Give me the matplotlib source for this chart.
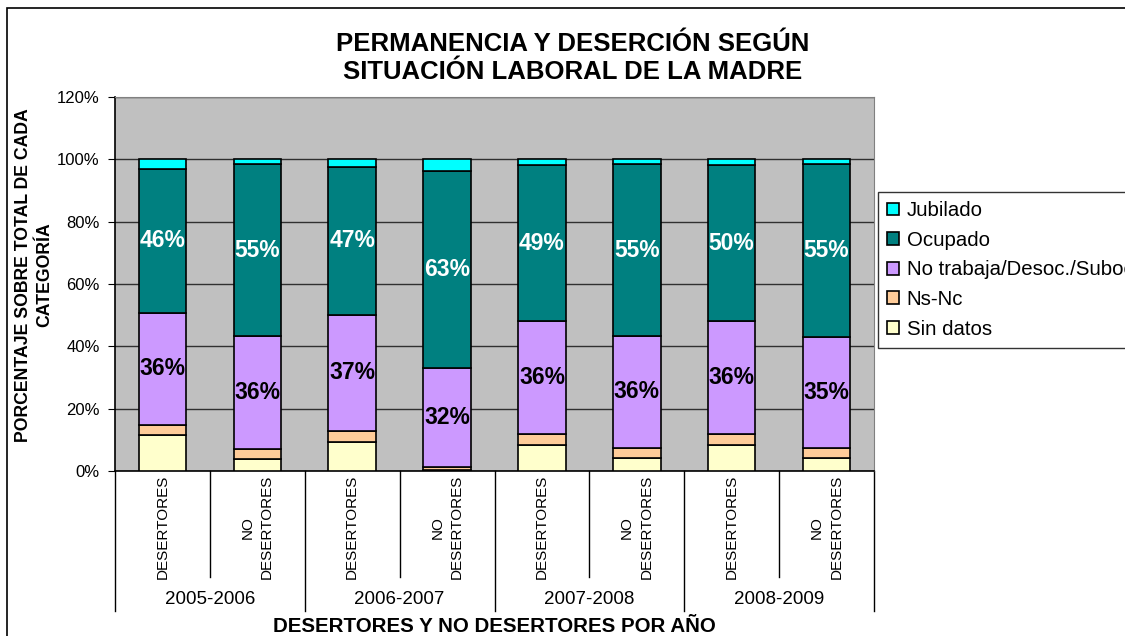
import numpy as np
import matplotlib.pyplot as plt
import matplotlib.transforms as mtransforms
from matplotlib.patches import Rectangle

plt.rcParams['font.family'] = ['Liberation Sans', 'DejaVu Sans']

# data (percent of each category)
grupos = ['DESERTORES', 'NO\nDESERTORES'] * 4
anios = ['2005-2006', '2006-2007', '2007-2008', '2008-2009']
sin_datos = [11.5, 3.7, 9.3, 0.4, 8.5, 4.3, 8.5, 4.3]
ns_nc = [3.3, 3.3, 3.6, 0.8, 3.4, 3.2, 3.4, 3.2]
no_trabaja = [36.0, 36.2, 37.3, 32.0, 36.3, 35.8, 36.2, 35.5]
ocupado = [46.2, 55.3, 47.3, 63.0, 49.9, 55.1, 50.0, 55.6]
jubilado = [3.0, 1.5, 2.5, 3.8, 1.9, 1.6, 1.9, 1.4]
etiq_notrab = ['36%', '36%', '37%', '32%', '36%', '36%', '36%', '35%']
etiq_ocup = ['46%', '55%', '47%', '63%', '49%', '55%', '50%', '55%']

series = [('Sin datos', sin_datos, '#FFFFCC'),
          ('Ns-Nc', ns_nc, '#FFCC99'),
          ('No trabaja/Desoc./Suboc', no_trabaja, '#CC99FF'),
          ('Ocupado', ocupado, '#008080'),
          ('Jubilado', jubilado, '#00FFFF')]

W, H = 1125, 636
fig = plt.figure(figsize=(W / 100, H / 100), dpi=100)
ax = fig.add_axes([115 / W, 1 - 471 / H, (874 - 115) / W, (471 - 97) / H])
ax.set_facecolor('#C0C0C0')

x = np.arange(len(grupos))
bottom = np.zeros(len(x))
bars = {}
for name, vals, col in series:
    vals = np.array(vals)
    bars[name] = ax.bar(x, vals, 0.5, bottom=bottom, color=col,
                        edgecolor='black', linewidth=1.2, label=name, zorder=3)
    bottom += vals

# percentage labels
b1 = np.array(sin_datos) + np.array(ns_nc)
for i in x:
    ax.text(i, b1[i] + no_trabaja[i] / 2, etiq_notrab[i], ha='center', va='center',
            fontsize=16.5, fontweight='bold', color='black', zorder=5)
    ax.text(i, b1[i] + no_trabaja[i] + ocupado[i] / 2, etiq_ocup[i], ha='center',
            va='center', fontsize=16.5, fontweight='bold', color='white', zorder=5)

ax.set_xlim(-0.5, len(x) - 0.5)
ax.set_ylim(0, 120)
ax.set_yticks(np.arange(0, 121, 20))
ax.set_yticklabels(['%d%%' % v for v in range(0, 121, 20)], fontsize=12)
ax.yaxis.grid(True, color='#303030', linewidth=1, zorder=1)
ax.set_axisbelow(True)
ax.tick_params(axis='y', direction='out', length=5, pad=6)
ax.set_xticks([])
for s in ['top', 'right']:
    ax.spines[s].set_color('#808080')
for s in ['left', 'bottom']:
    ax.spines[s].set_color('black')
    ax.spines[s].set_linewidth(1.2)

# two-level category axis
trans = mtransforms.blended_transform_factory(ax.transData, fig.transFigure)
def fy(py):
    return 1 - py / H
for i in x:
    ax.text(i, fy(475), grupos[i], transform=trans, rotation=90, ha='center',
            va='top', fontsize=11, multialignment='center', linespacing=1.5)
for k in range(len(x) + 1):
    xs = k - 0.5
    y_end = 611 if k % 2 == 0 else 577
    ax.plot([xs, xs], [fy(471), fy(y_end)], transform=trans, color='black',
            linewidth=1, clip_on=False)
for j, a in enumerate(anios):
    ax.text(2 * j + 0.5, fy(600), a, transform=trans, ha='center', va='center',
            fontsize=13.5)

fig.text((115 + 874) / 2 / W, fy(627), 'DESERTORES Y NO DESERTORES POR AÑO',
         ha='center', va='center', fontsize=14.8, fontweight='bold')
fig.text(573 / W, fy(58), 'PERMANENCIA Y DESERCIÓN SEGÚN\nSITUACIÓN LABORAL DE LA MADRE',
         ha='center', va='center', fontsize=18.5, fontweight='bold', linespacing=1.2)
fig.text(34 / W, fy(275), 'PORCENTAJE SOBRE TOTAL DE CADA\nCATEGORÍA', rotation=90,
         ha='center', va='center', fontsize=12.7, fontweight='bold', linespacing=1.35)

# legend, reversed order
handles = [bars[n] for n, _, _ in series][::-1]
labels = [n for n, _, _ in series][::-1]
leg = fig.legend(handles, labels, loc='upper left', bbox_to_anchor=(878 / W, fy(192)),
                 fontsize=14.7, frameon=True, fancybox=False, edgecolor='black',
                 handlelength=0.6, handleheight=0.6, handletextpad=0.35,
                 labelspacing=0.52, borderpad=0.45, borderaxespad=0)
leg.get_frame().set_linewidth(1)

# outer chart border
fig.patches.append(Rectangle((7 / W, -0.1), 1.2, 1 - 8 / H + 0.1, transform=fig.transFigure,
                             fill=False, edgecolor='black', linewidth=1.2))

fig.savefig('out.png', dpi=100)
